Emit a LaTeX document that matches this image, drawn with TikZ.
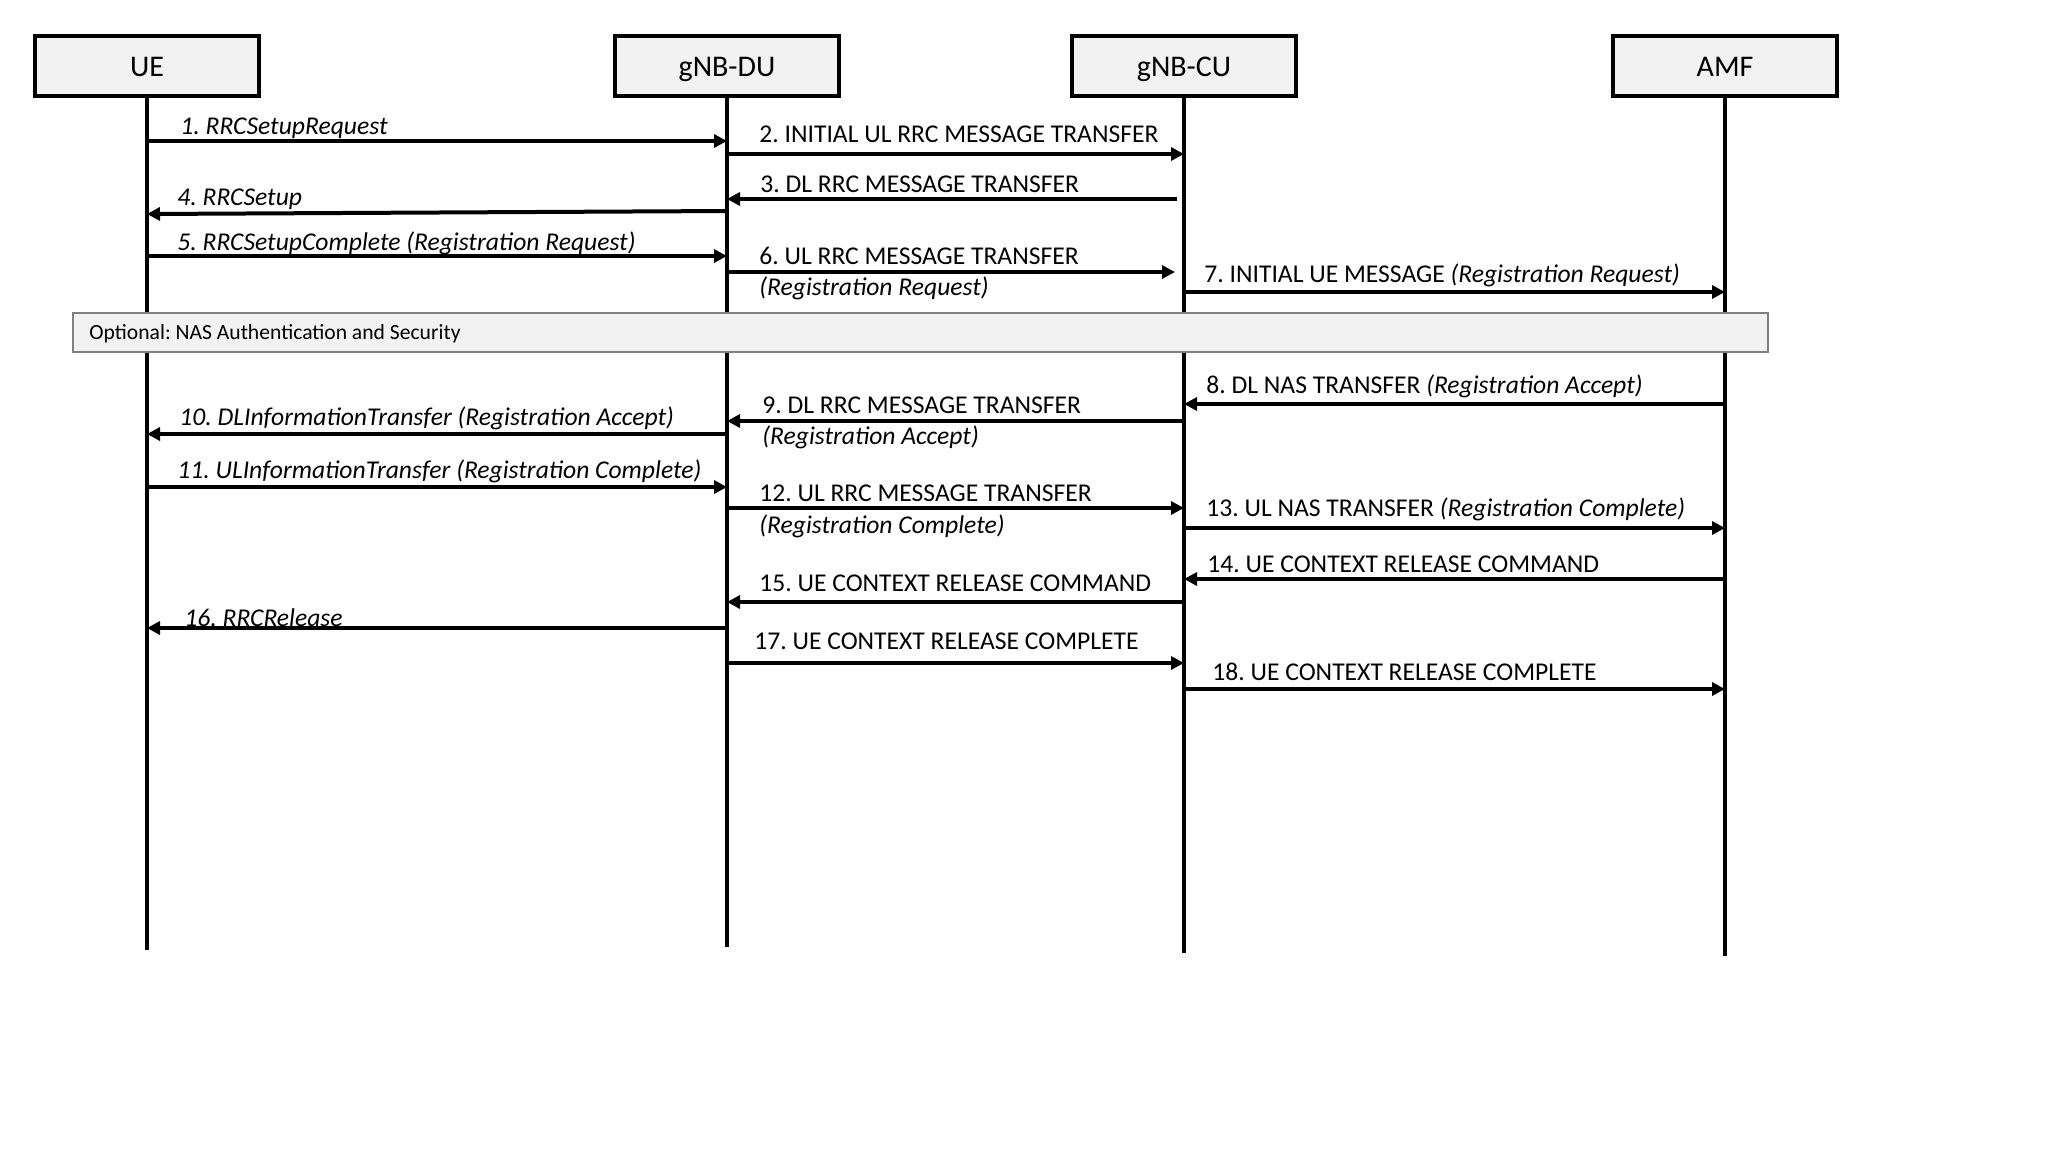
\documentclass[tikz,border=0pt]{standalone}
\usepackage{fontspec}
\setmainfont{Carlito}
\usetikzlibrary{arrows.meta}
\definecolor{boxgray}{HTML}{F2F2F2}
\definecolor{optborder}{HTML}{808080}
\frenchspacing
\begin{document}
\frenchspacing
\begin{tikzpicture}[x=0.5pt,y=-0.5pt,
  entity/.style={draw, line width=2pt, fill=boxgray, minimum width=112pt, minimum height=30pt, inner sep=0pt, text height=12pt, text depth=2pt, font=\fontsize{15}{17}\selectfont},
  lifeline/.style={line width=2pt},
  msg/.style={line width=2pt, -{Triangle[length=6.5pt,width=6.5pt]}},
  lbl/.style={anchor=base west, inner sep=0pt, font=\fontsize{12.8}{14}\selectfont},
  optbox/.style={draw=optborder, line width=1pt, fill=boxgray, minimum width=847.5pt, minimum height=19.5pt, inner sep=0pt, anchor=north west},
  optlbl/.style={anchor=base west, inner sep=0pt, font=\fontsize{10.8}{12}\selectfont}]
\useasboundingbox (0,0) rectangle (2048,1153);
\fill[white] (0,0) rectangle (2048,1153);

% entities
\node[entity] (ue)  at (147,66)  {UE};
\node[entity] (du)  at (727,66)  {gNB-DU};
\node[entity] (cu)  at (1184,66) {gNB-CU};
\node[entity] (amf) at (1725,66) {AMF};

% lifeline ends
\coordinate (ueEnd)  at (147,950);
\coordinate (duEnd)  at (727,947);
\coordinate (cuEnd)  at (1184,953);
\coordinate (amfEnd) at (1725,956);

\draw[lifeline] (ue.south) -- (ueEnd);
\draw[lifeline] (du.south) -- (duEnd);
\draw[lifeline] (cu.south) -- (cuEnd);
\draw[lifeline] (amf.south) -- (amfEnd);

% 1
\draw[msg] (ue |- 0,141) -- (du |- 0,141);
\node[lbl] (l1) at (180,134) {\itshape 1. RRCSetupRequest};
% 2
\draw[msg] (du |- 0,154) -- (cu |- 0,154);
\node[lbl] (l2) at (759,142) {2. INITIAL UL RRC MESSAGE TRANSFER};
% 3
\draw[msg, shorten <=3.5pt] (cu |- 0,199) -- (du |- 0,199);
\node[lbl] (l3) at (760,192) {3. DL RRC MESSAGE TRANSFER};
% 4
\draw[msg] (du |- 0,211) -- (ue |- 0,214);
\node[lbl] (l4) at (177,205) {\itshape 4. RRCSetup};
% 5
\draw[msg] (ue |- 0,256) -- (du |- 0,256);
\node[lbl] (l5) at (177,250) {\itshape 5. RRCSetupComplete (Registration Request)};
% 6
\draw[msg, shorten >=4.5pt] (du |- 0,272) -- (cu |- 0,272);
\node[lbl] (l6) at (759,264) {6. UL RRC MESSAGE TRANSFER};
\node[lbl] (l6b) at (759,295) {\itshape (Registration Request)};
% 7
\draw[msg] (cu |- 0,292) -- (amf |- 0,292);
\node[lbl] (l7) at (1204,282) {7. INITIAL UE MESSAGE \textit{(Registration Request)}};

% optional box
\node[optbox] (opt) at (72,312) {};
\node[optlbl] (optl) at (89,339) {Optional: NAS Authentication and Security};

% 8
\draw[msg] (amf |- 0,404) -- (cu |- 0,404);
\node[lbl] (l8) at (1206,393) {8. DL NAS TRANSFER \textit{(Registration Accept)}};
% 9
\draw[msg] (cu |- 0,421) -- (du |- 0,421);
\node[lbl] (l9) at (762,413) {9. DL RRC MESSAGE TRANSFER};
\node[lbl] (l9b) at (762,444) {\itshape (Registration Accept)};
% 10
\draw[msg] (du |- 0,434) -- (ue |- 0,434);
\node[lbl] (l10) at (179,425) {\itshape 10. DLInformationTransfer (Registration Accept)};
% 11
\draw[msg] (ue |- 0,487) -- (du |- 0,487);
\node[lbl] (l11) at (177,478) {\itshape 11. ULInformationTransfer (Registration Complete)};
% 12
\draw[msg] (du |- 0,508) -- (cu |- 0,508);
\node[lbl] (l12) at (759,501) {12. UL RRC MESSAGE TRANSFER};
\node[lbl] (l12b) at (759,533) {\itshape (Registration Complete)};
% 13
\draw[msg] (cu |- 0,528) -- (amf |- 0,528);
\node[lbl] (l13) at (1206,516) {13. UL NAS TRANSFER \textit{(Registration Complete)}};
% 14
\draw[msg] (amf |- 0,579) -- (cu |- 0,579);
\node[lbl] (l14) at (1207,572) {14. UE CONTEXT RELEASE COMMAND};
% 15
\draw[msg] (cu |- 0,602) -- (du |- 0,602);
\node[lbl] (l15) at (759,591) {15. UE CONTEXT RELEASE COMMAND};
% 16
\draw[msg] (du |- 0,628) -- (ue |- 0,628);
\node[lbl] (l16) at (184,626) {\itshape 16. RRCRelease};
% 17
\draw[msg] (du |- 0,663) -- (cu |- 0,663);
\node[lbl] (l17) at (754,649) {17. UE CONTEXT RELEASE COMPLETE};
% 18
\draw[msg] (cu |- 0,689) -- (amf |- 0,689);
\node[lbl] (l18) at (1212,680) {18. UE CONTEXT RELEASE COMPLETE};
\end{tikzpicture}
\end{document}
